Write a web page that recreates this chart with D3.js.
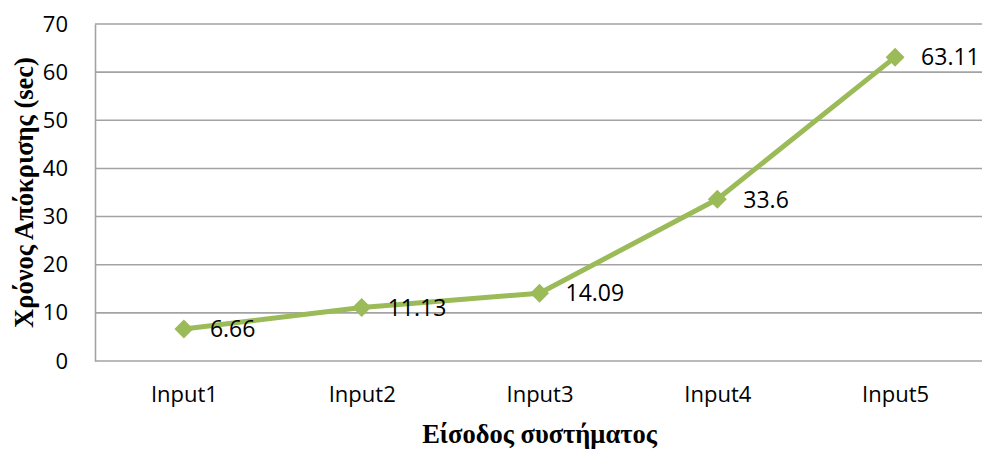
<!DOCTYPE html>
<html lang="el">
  <head>
    <meta charset="UTF-8" />
    <title>Χρόνος Απόκρισης</title>
    <script src="https://cdn.jsdelivr.net/npm/d3@7"></script>
    <style>
      body { margin: 0; background: #fff; }
      svg { display: block; }
    </style>
  </head>
  <body>
    <div id="chart"></div>
    <script>
      // chart data
      let categories = ["Input1", "Input2", "Input3", "Input4", "Input5"];
      let responseTimes = [6.66, 11.13, 14.09, 33.6, 63.11];
      let labels = ["6.66", "11.13", "14.09", "33.6", "63.11"];
      let yTicks = [0, 10, 20, 30, 40, 50, 60, 70];

      let fullWidth = 982;
      let fullHeight = 450;
      let margin = { top: 24, right: -2, bottom: 89, left: 95 };
      let width = fullWidth - margin.left - margin.right;
      let height = fullHeight - margin.top - margin.bottom;

      let svg = d3
        .select("#chart")
        .append("svg")
        .attr("width", fullWidth)
        .attr("height", fullHeight);

      let g = svg
        .append("g")
        .attr("transform", `translate(${margin.left},${margin.top})`);

      let x = d3.scalePoint().domain(categories).range([0, width]).padding(0.5);
      let y = d3.scaleLinear().domain([0, 70]).range([height, 0]);

      let gridColor = "#a3a3a3";

      // horizontal gridlines
      g.append("g")
        .selectAll("line")
        .data(yTicks)
        .enter()
        .append("line")
        .attr("x1", 0)
        .attr("x2", width)
        .attr("y1", (d) => y(d))
        .attr("y2", (d) => y(d))
        .attr("stroke", gridColor)
        .attr("stroke-width", 1.6);

      // y axis
      let yAxis = g
        .append("g")
        .call(d3.axisLeft(y).tickValues(yTicks).tickSize(0).tickPadding(27));
      yAxis.select(".domain").attr("stroke", gridColor).attr("stroke-width", 1.6);
      yAxis
        .selectAll("text")
        .attr("font-family", "'Open Sans', sans-serif")
        .attr("font-size", "22px")
        .attr("fill", "#000");

      // x axis
      let xAxis = g
        .append("g")
        .attr("transform", `translate(0,${height})`)
        .call(d3.axisBottom(x).tickSize(0).tickPadding(25));
      xAxis.select(".domain").remove();
      xAxis
        .selectAll("text")
        .attr("font-family", "'Open Sans', sans-serif")
        .attr("font-size", "22px")
        .attr("fill", "#000");

      let lineColor = "#9bbb59";

      let line = d3
        .line()
        .x((d, i) => x(categories[i]))
        .y((d) => y(d));

      g.append("path")
        .datum(responseTimes)
        .attr("d", line)
        .attr("fill", "none")
        .attr("stroke", lineColor)
        .attr("stroke-width", 5)
        .attr("stroke-linejoin", "round");

      // diamond markers
      g.append("g")
        .selectAll("path")
        .data(responseTimes)
        .enter()
        .append("path")
        .attr("d", d3.symbol().type(d3.symbolSquare).size(180))
        .attr("transform", (d, i) => `translate(${x(categories[i])},${y(d)}) rotate(45)`)
        .attr("fill", lineColor);

      // data labels
      g.append("g")
        .selectAll("text")
        .data(responseTimes)
        .enter()
        .append("text")
        .attr("x", (d, i) => x(categories[i]) + 26)
        .attr("y", (d) => y(d))
        .attr("dy", "0.36em")
        .attr("font-family", "'Open Sans', sans-serif")
        .attr("font-size", "23px")
        .attr("fill", "#000")
        .text((d, i) => labels[i]);

      // axis titles
      svg
        .append("text")
        .attr("transform", `translate(33,${margin.top + height / 2}) rotate(-90)`)
        .attr("text-anchor", "middle")
        .attr("font-family", "'Liberation Serif', serif")
        .attr("font-weight", "bold")
        .attr("font-size", "26.5px")
        .text("Χρόνος Απόκρισης (sec)");

      svg
        .append("text")
        .attr("x", margin.left + width / 2)
        .attr("y", 443)
        .attr("text-anchor", "middle")
        .attr("font-family", "'Liberation Serif', serif")
        .attr("font-weight", "bold")
        .attr("font-size", "26.5px")
        .text("Είσοδος συστήματος");
    </script>
  </body>
</html>
